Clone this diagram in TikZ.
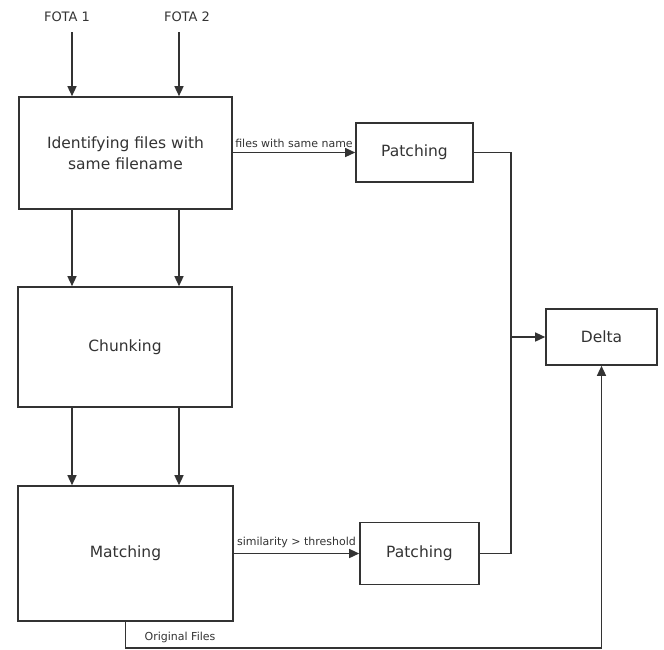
\documentclass[tikz,border=0pt]{standalone}
\usepackage{fontspec}
\setmainfont{DejaVu Sans}
\usetikzlibrary{arrows.meta}

\definecolor{ink}{HTML}{333333}
\tikzset{
    blk/.style={draw=ink, line width=1.6pt, fill=white, text=ink, align=center,
        font=\fontsize{15.5}{21}\selectfont, inner sep=0pt},
    lnk/.style={draw=ink, line width=1.4pt},
    arr/.style={lnk, -{Triangle[length=10pt,width=9pt]}},
    lbl/.style={text=ink, font=\fontsize{11}{13}\selectfont, inner sep=1pt}
}

\begin{document}
\begin{tikzpicture}[x=1pt, y=-1pt]
    \useasboundingbox (0,0) rectangle (664,649);
    % inputs
    \node[lbl, font=\fontsize{13}{15}\selectfont] (fota1) at (67,17) {FOTA 1};
    \node[lbl, font=\fontsize{13}{15}\selectfont] (fota2) at (187,17) {FOTA 2};
    \coordinate (in1) at (72,32);
    \coordinate (in2) at (179,32);
    % blocks
    \node[blk, minimum width=213pt, minimum height=112pt] (ident) at (125.5,153) {Identifying files with\\same filename};
    \node[blk, minimum width=214pt, minimum height=120pt] (chunk) at (125,347) {Chunking};
    \node[blk, minimum width=215pt, minimum height=135pt] (match) at (125.5,553.5) {Matching};
    \node[blk, minimum width=117pt, minimum height=59pt] (patchA) at (414.5,152.5) {Patching};
    \node[blk, minimum width=119pt, minimum height=62pt] (patchB) at (419.5,553.5) {Patching};
    \node[blk, minimum width=111pt, minimum height=56pt] (delta) at (601.5,337) {Delta};
    \coordinate (join) at (511,337);
    % connectors
    \draw[arr] (in1) -- (in1 |- ident.north);
    \draw[arr] (in2) -- (in2 |- ident.north);
    \draw[arr] (in1 |- ident.south) -- (in1 |- chunk.north);
    \draw[arr] (in2 |- ident.south) -- (in2 |- chunk.north);
    \draw[arr] (in1 |- chunk.south) -- (in1 |- match.north);
    \draw[arr] (in2 |- chunk.south) -- (in2 |- match.north);
    \draw[arr] (ident.east |- patchA.west) -- node[lbl, above, yshift=3pt] {files with same name} (patchA.west);
    \draw[arr] (match.east |- patchB.west) -- node[lbl, above, yshift=4pt] {similarity > threshold} (patchB.west);
    \draw[lnk] (patchA.east) -| (join);
    \draw[lnk] (patchB.east) -| (join);
    \draw[arr] (join) -- (delta.west);
    \draw[arr] (match.south) -- ++(0,26) coordinate (orig) -| (delta.south);
    \node[lbl, anchor=south west] at ([xshift=18pt,yshift=4pt]orig) {Original Files};
\end{tikzpicture}
\end{document}
